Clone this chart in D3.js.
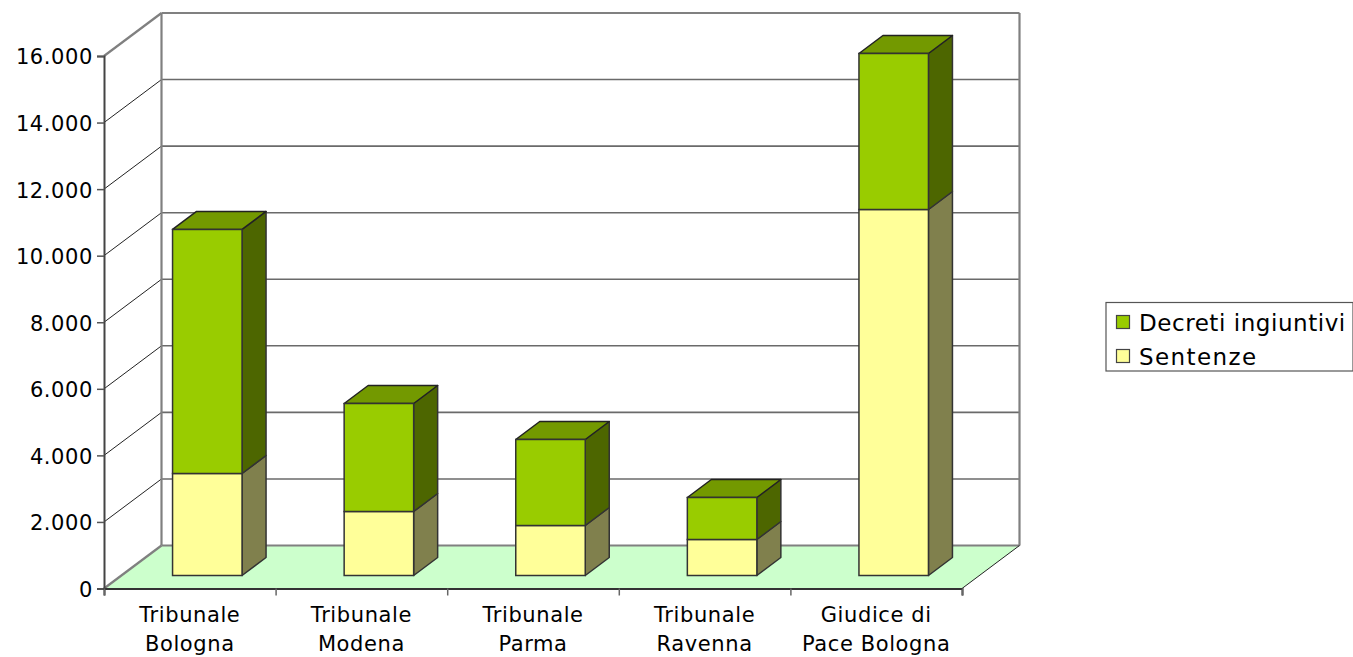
<!DOCTYPE html>
<html>
<head>
<meta charset="utf-8">
<script src="https://cdn.jsdelivr.net/npm/d3@7/dist/d3.min.js"></script>
<style>
  html, body { margin: 0; padding: 0; background: #fff; }
  svg { display: block; }
  text { font-family: "DejaVu Sans", sans-serif; fill: #000; }
</style>
</head>
<body>
<svg id="chart" width="1353" height="657"></svg>
<script>
// Stacked 3D-look columns per court
const categories = [["Tribunale", "Bologna"], ["Tribunale", "Modena"], ["Tribunale", "Parma"], ["Tribunale", "Ravenna"], ["Giudice di", "Pace Bologna"]];
const sentenze = [3065, 1923, 1502, 1082, 10997];
const decreti = [7332, 3245, 2585, 1262, 4688];
const yTicks = [0, 2000, 4000, 6000, 8000, 10000, 12000, 14000, 16000];
const yTickLabels = ["0", "2.000", "4.000", "6.000", "8.000", "10.000", "12.000", "14.000", "16.000"];
const legendLabels = ["Decreti ingiuntivi", "Sentenze"];

const svg = d3.select("#chart");

// Front plane of the plot box, and the depth of the box
const plotLeft = 104, plotRight = 962, plotTop = 56, plotBottom = 588.5;
const depthX = 57.5, depthY = -43;

const y = d3.scaleLinear().domain([0, 16000]).range([plotBottom, plotTop]);
const x = d3.scaleBand().domain(d3.range(categories.length)).range([plotLeft, plotRight]).paddingInner(0.595).paddingOuter(0.2975);
const edges = d3.scaleLinear().domain([0, categories.length]).range([plotLeft, plotRight]);

// Column offset into the box and the column's own depth
const barShiftX = 17.5, barShiftY = -13;
const barDepthX = 24, barDepthY = -18;

const gray = "#808080";
const axisFontSize = 21, axisSpacing = 0.6;

// Floor
svg.append("polygon")
  .attr("points", [[plotLeft, plotBottom], [plotRight, plotBottom], [plotRight + depthX, plotBottom + depthY], [plotLeft + depthX, plotBottom + depthY]].join(" "))
  .attr("fill", "#ccffcc");

// Back wall gridlines
svg.append("g").selectAll("line").data(yTicks.slice(1)).join("line")
  .attr("x1", plotLeft + depthX).attr("x2", plotRight + depthX)
  .attr("y1", d => y(d) + depthY).attr("y2", d => y(d) + depthY)
  .attr("stroke", d => d === 16000 ? gray : "#6a6a6a").attr("stroke-width", d => d === 16000 ? 2.2 : 1.6);

// Floor's back edge
svg.append("line")
  .attr("x1", plotLeft + depthX).attr("x2", plotRight + depthX)
  .attr("y1", plotBottom + depthY).attr("y2", plotBottom + depthY)
  .attr("stroke", gray).attr("stroke-width", 2);

// Side wall gridlines
svg.append("g").selectAll("line").data(yTicks.slice(1, -1)).join("line")
  .attr("x1", plotLeft).attr("x2", plotLeft + depthX)
  .attr("y1", d => y(d)).attr("y2", d => y(d) + depthY)
  .attr("stroke", "#222").attr("stroke-width", 1);

// Box outline: back verticals and grey diagonals
const boxLines = [
  [plotLeft + depthX, plotTop + depthY, plotLeft + depthX, plotBottom + depthY],
  [plotRight + depthX, plotTop + depthY, plotRight + depthX, plotBottom + depthY],
  [plotLeft, plotTop, plotLeft + depthX, plotTop + depthY],
  [plotLeft, plotBottom, plotLeft + depthX, plotBottom + depthY]
];
svg.append("g").selectAll("line").data(boxLines).join("line")
  .attr("x1", d => d[0]).attr("y1", d => d[1]).attr("x2", d => d[2]).attr("y2", d => d[3])
  .attr("stroke", gray).attr("stroke-width", 2.2);

// Floor's right diagonal
svg.append("line")
  .attr("x1", plotRight).attr("y1", plotBottom).attr("x2", plotRight + depthX).attr("y2", plotBottom + depthY)
  .attr("stroke", "#222").attr("stroke-width", 1);

// Axes
const yAxis = d3.axisLeft(y).tickValues(yTicks).tickFormat((d, i) => yTickLabels[i]).tickSize(7).tickPadding(4);
const gy = svg.append("g").attr("transform", `translate(${plotLeft},0)`).call(yAxis);
gy.select(".domain").attr("stroke", "#444").attr("stroke-width", 2);
gy.selectAll(".tick line").attr("stroke", "#555").attr("stroke-width", 1.5);
gy.selectAll("text")
  .attr("font-size", axisFontSize).attr("letter-spacing", axisSpacing)
  .attr("font-family", '"DejaVu Sans", sans-serif').attr("fill", "#000")
  .attr("dy", "0.38em");

const xAxis = d3.axisBottom(edges).tickValues(d3.range(categories.length + 1)).tickFormat("").tickSize(7);
const gx = svg.append("g").attr("transform", `translate(0,${plotBottom})`).call(xAxis);
gx.select(".domain").attr("stroke", "#333").attr("stroke-width", 2);
gx.selectAll(".tick line").attr("stroke", "#666").attr("stroke-width", 1.5);

// Category labels on two lines
const catLabels = svg.append("g").selectAll("text").data(categories).join("text")
  .attr("text-anchor", "middle").attr("font-size", axisFontSize).attr("letter-spacing", axisSpacing);
catLabels.selectAll("tspan").data((d, i) => d.map(t => ({ t, i }))).join("tspan")
  .attr("x", d => edges(d.i + 0.5))
  .attr("y", (d, j) => 622 + j * 29)
  .text(d => d.t);

// One 3D block: front face, side face and optional top face
function block(g, i, v0, v1, front, side, topFill) {
  const x0 = x(i) + barShiftX, x1 = x0 + x.bandwidth();
  const y0 = y(v0) + barShiftY, y1 = y(v1) + barShiftY;
  const edge = "#333";
  g.append("polygon")
    .attr("points", [[x1, y0], [x1 + barDepthX, y0 + barDepthY], [x1 + barDepthX, y1 + barDepthY], [x1, y1]].join(" "))
    .attr("fill", side).attr("stroke", edge).attr("stroke-width", 1.5).attr("stroke-linejoin", "round");
  if (topFill) {
    g.append("polygon")
      .attr("points", [[x0, y1], [x1, y1], [x1 + barDepthX, y1 + barDepthY], [x0 + barDepthX, y1 + barDepthY]].join(" "))
      .attr("fill", topFill).attr("stroke", "#222").attr("stroke-width", 1.5).attr("stroke-linejoin", "round");
  }
  g.append("rect")
    .attr("x", x0).attr("y", y1).attr("width", x1 - x0).attr("height", y0 - y1)
    .attr("fill", front).attr("stroke", edge).attr("stroke-width", 1.5);
}

const bars = svg.append("g");
categories.forEach((c, i) => {
  const g = bars.append("g");
  block(g, i, 0, sentenze[i], "#ffff99", "#80804d");
  block(g, i, sentenze[i], sentenze[i] + decreti[i], "#99cc00", "#4d6600", "#739900");
});

// Legend
const legend = svg.append("g");
legend.append("rect").attr("x", 1106).attr("y", 302.5).attr("width", 247).attr("height", 68.5)
  .attr("fill", "#fff").attr("stroke", "#555").attr("stroke-width", 1.2);
const legendFills = ["#99cc00", "#ffff99"];
const legendRows = legend.selectAll("g").data(legendLabels).join("g")
  .attr("transform", (d, i) => `translate(0,${i * 34})`);
legendRows.append("rect").attr("x", 1116.5).attr("y", 315.5).attr("width", 13).attr("height", 13)
  .attr("fill", (d, i) => legendFills[i]).attr("stroke", "#444").attr("stroke-width", 1.2);
legendRows.append("text").attr("x", 1139).attr("y", 331)
  .attr("font-size", 23).attr("letter-spacing", (d, i) => i ? 1.4 : 0.55).text(d => d);
</script>
</body>
</html>
